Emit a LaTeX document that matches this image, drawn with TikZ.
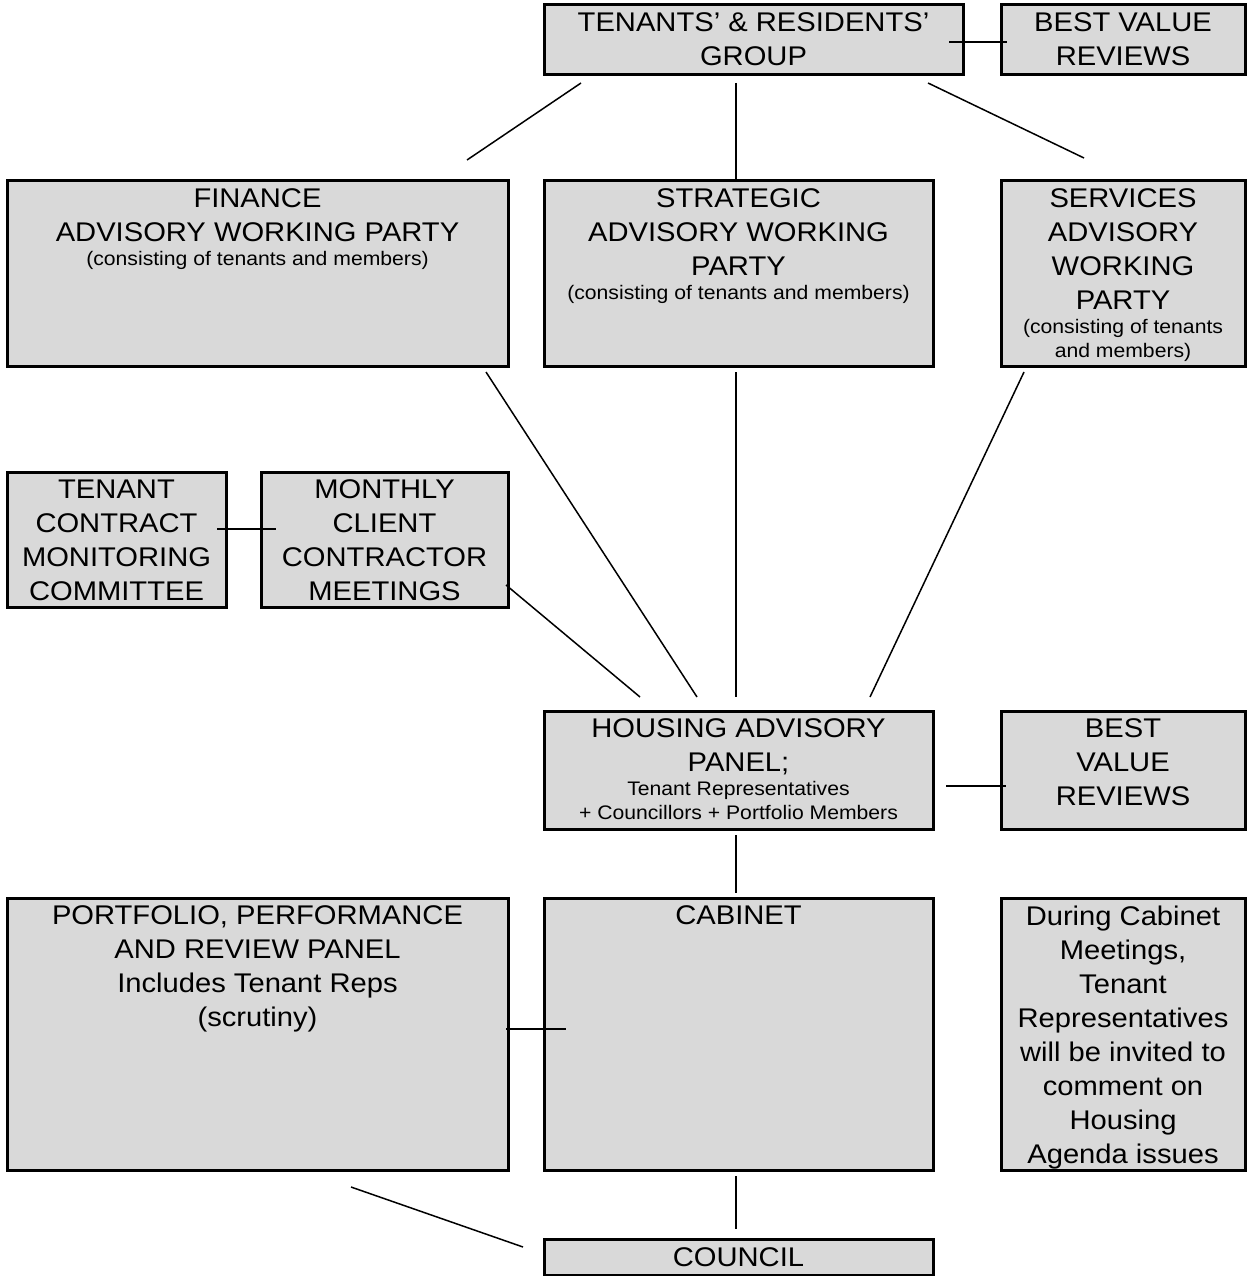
\documentclass[tikz,border=0pt]{standalone}
\usepackage{fontspec}
\setmainfont[FakeStretch=1.08]{Liberation Sans}
\newcommand{\bigfnt}{\fontsize{27}{34}\selectfont}
\newcommand{\smfnt}{\fontsize{19.6}{24}\selectfont}
\definecolor{boxgray}{HTML}{D9D9D9}
\begin{document}
\begin{tikzpicture}[x=1pt,y=-1pt,
  box/.style={draw=black, line width=3pt, fill=boxgray, inner sep=0pt, rectangle},
  txt/.style={anchor=north, align=center, inner sep=0pt, font=\bigfnt},
  conn/.style={draw=black, line width=1.5pt}]
\useasboundingbox (0,0) rectangle (1252,1276);
% boxes
\node[box, minimum width=419pt, minimum height=70pt]  (trg) at (753.5,40) {};
\node[box, minimum width=244pt, minimum height=70pt]  (bv1) at (1123,40) {};
\node[box, minimum width=501pt, minimum height=185pt] (fin) at (257.5,273.5) {};
\node[box, minimum width=389pt, minimum height=185pt] (str) at (738.5,273.5) {};
\node[box, minimum width=244pt, minimum height=185pt] (ser) at (1123,273.5) {};
\node[box, minimum width=219pt, minimum height=135pt] (tcm) at (116.5,539.5) {};
\node[box, minimum width=247pt, minimum height=135pt] (mcc) at (384.5,539.5) {};
\node[box, minimum width=389pt, minimum height=118pt] (hap) at (738.5,770) {};
\node[box, minimum width=244pt, minimum height=118pt] (bv2) at (1123,770) {};
\node[box, minimum width=501pt, minimum height=272pt] (ppr) at (257.5,1034) {};
\node[box, minimum width=389pt, minimum height=272pt] (cab) at (738.5,1034) {};
\node[box, minimum width=244pt, minimum height=272pt] (dur) at (1123,1034) {};
\node[box, minimum width=389pt, minimum height=36pt]  (cou) at (738.5,1257) {};
% texts (first baseline 27pt below the box top)
\node[txt] (trg-t) at (753.5,12.6) {TENANTS’ \& RESIDENTS’\\GROUP};
\node[txt] (bv1-t) at (1123,12.6) {BEST VALUE\\REVIEWS};
\node[txt] (fin-t) at (257.5,188.6) {FINANCE\\ADVISORY WORKING PARTY\\[-10pt]{\smfnt (consisting of tenants and members)}};
\node[txt] (str-t) at (738.5,188.6) {STRATEGIC\\ADVISORY WORKING\\PARTY\\[-10pt]{\smfnt (consisting of tenants and members)}};
\node[txt] (ser-t) at (1123,188.6) {SERVICES\\ADVISORY\\WORKING\\PARTY\\[-10pt]{\smfnt (consisting of tenants}\\[-10pt]{\smfnt and members)}};
\node[txt] (tcm-t) at (116.5,479.6) {TENANT\\CONTRACT\\MONITORING\\COMMITTEE};
\node[txt] (mcc-t) at (384.5,479.6) {MONTHLY\\CLIENT\\CONTRACTOR\\MEETINGS};
\node[txt] (hap-t) at (738.5,718.6) {HOUSING ADVISORY\\PANEL;\\[-10pt]{\smfnt Tenant Representatives}\\[-10pt]{\smfnt + Councillors + Portfolio Members}};
\node[txt] (bv2-t) at (1123,718.6) {BEST\\VALUE\\REVIEWS};
\node[txt] (ppr-t) at (257.5,905.6) {PORTFOLIO, PERFORMANCE\\AND REVIEW PANEL\\Includes Tenant Reps\\(scrutiny)};
\node[txt] (cab-t) at (738.5,905.6) {CABINET};
\node[txt] (dur-t) at (1123,905.6) {During Cabinet\\Meetings,\\Tenant\\Representatives\\will be invited to\\comment on\\Housing\\Agenda issues};
\node[txt] (cou-t) at (738.5,1247.6) {COUNCIL};
% connector ends
\coordinate (c1a) at (949,42);   \coordinate (c1b) at (1007,42);
\coordinate (c2a) at (581,83);   \coordinate (c2b) at (467,160);
\coordinate (c3a) at (736,83);   \coordinate (c3b) at (736,180);
\coordinate (c4a) at (928,83);   \coordinate (c4b) at (1084,158);
\coordinate (c5a) at (486,372);  \coordinate (c5b) at (697,697);
\coordinate (c6a) at (736,372);  \coordinate (c6b) at (736,697);
\coordinate (c7a) at (1024,372); \coordinate (c7b) at (870,697);
\coordinate (c8a) at (217,529);  \coordinate (c8b) at (276,529);
\coordinate (c9a) at (506,585);  \coordinate (c9b) at (640,697);
\coordinate (c10a) at (946,786); \coordinate (c10b) at (1006,786);
\coordinate (c11a) at (736,835); \coordinate (c11b) at (736,893);
\coordinate (c12a) at (506,1029); \coordinate (c12b) at (566,1029);
\coordinate (c13a) at (736,1176); \coordinate (c13b) at (736,1229);
\coordinate (c14a) at (351,1187); \coordinate (c14b) at (523,1247);
% connectors
\foreach \i in {1,...,14} {\draw[conn] (c\i a) -- (c\i b);}
\end{tikzpicture}
\end{document}
